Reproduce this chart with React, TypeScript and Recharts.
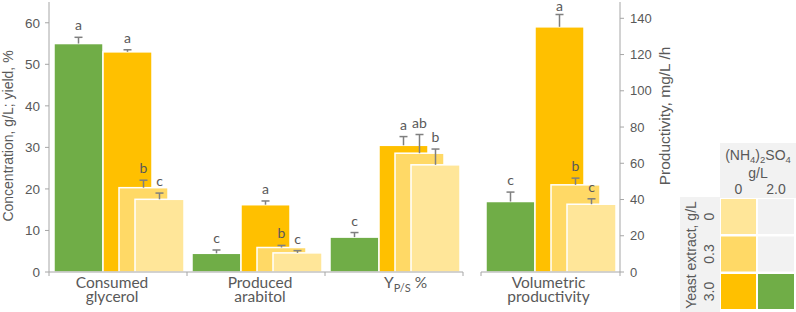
import React from 'react';
import { BarChart, Bar, XAxis, YAxis } from 'recharts';

// ---------- data ----------
const categories = ['Consumed glycerol', 'Produced arabitol', 'YP/S %'];
const prodCategories = ['Volumetric productivity'];

// (NH4)2SO4 2.0 g/L, yeast extract 3.0 g/L
const greenValues = [55.0, 4.5, 8.4];
const greenErrors = [1.5, 0.8, 1.1];
const greenLetters = ['a', 'c', 'c'];
// (NH4)2SO4 0, yeast extract 3.0 g/L
const orangeValues = [53.0, 16.2, 30.5];
const orangeErrors = [0.5, 0.9, 2.1];
const orangeLetters = ['a', 'a', 'a'];
// (NH4)2SO4 0, yeast extract 0.3 g/L
const lightValues = [20.3, 5.9, 28.6];
const lightErrors = [1.8, 0.5, 4.5];
const lightLetters = ['b', 'b', 'ab'];
// (NH4)2SO4 0, yeast extract 0
const lightestValues = [17.5, 4.6, 25.8];
const lightestErrors = [1.5, 0.55, 3.8];
const lightestLetters = ['c', 'c', 'b'];

// Volumetric productivity, mg/L/h
const prodGreen = [38.9];
const prodGreenErr = [5.2];
const prodGreenLetter = ['c'];
const prodOrange = [135.3];
const prodOrangeErr = [6.8];
const prodOrangeLetter = ['a'];
const prodLight = [48.1];
const prodLightErr = [3.7];
const prodLightLetter = ['b'];
const prodLightest = [37.4];
const prodLightestErr = [3.0];
const prodLightestLetter = ['c'];

const leftTicks = [0, 10, 20, 30, 40, 50, 60];
const rightTicks = [0, 20, 40, 60, 80, 100, 120, 140];

const legendCols = ['0', '2.0'];
const legendRows = ['0', '0.3', '3.0'];
const legendCells = [
  ['lightest', 'empty'],
  ['light', 'empty'],
  ['orange', 'green'],
];

// ---------- styles ----------
const COLORS: Record<string, string> = {
  green: '#70AD47',
  orange: '#FFC000',
  light: '#FFD966',
  lightest: '#FFE699',
  empty: '#F2F2F2',
};
const TEXT = '#595959';
const AXIS = '#A6A6A6';
const ERR = '#7F7F7F';
const ARIAL = '"Liberation Sans", Arial, sans-serif';
const CAL = 'Lato, "Open Sans", sans-serif';

// horizontal nudges of category labels (as placed in the original)
const LABEL_DX: Record<string, number> = {
  'Consumed glycerol': -6,
  'Produced arabitol': 4,
  'YP/S %': -10,
  'Volumetric productivity': -2,
};

const data1 = categories.map((cat, i) => ({
  cat,
  green: greenValues[i], greenErr: greenErrors[i], greenLetter: greenLetters[i],
  orange: orangeValues[i], orangeErr: orangeErrors[i], orangeLetter: orangeLetters[i],
  light: lightValues[i], lightErr: lightErrors[i], lightLetter: lightLetters[i],
  lightest: lightestValues[i], lightestErr: lightestErrors[i], lightestLetter: lightestLetters[i],
}));

const data2 = prodCategories.map((cat, i) => ({
  cat,
  green: prodGreen[i], greenErr: prodGreenErr[i], greenLetter: prodGreenLetter[i],
  orange: prodOrange[i], orangeErr: prodOrangeErr[i], orangeLetter: prodOrangeLetter[i],
  light: prodLight[i], lightErr: prodLightErr[i], lightLetter: prodLightLetter[i],
  lightest: prodLightest[i], lightestErr: prodLightestErr[i], lightestLetter: prodLightestLetter[i],
}));

// bar shape with shifted position, error bar and significance letter
const makeShape = (key: string, dx: number) => (props: any) => {
  const { x, y, width, height, payload } = props;
  const v = payload[key];
  const err = payload[key + 'Err'] || 0;
  const letter = payload[key + 'Letter'];
  const k = v ? height / v : 0;
  const bx = x + dx;
  const cx = bx + width / 2;
  const errTop = y - err * k;
  const ly = Math.max(errTop - 7, 11);
  return (
    <g>
      <rect x={bx} y={y} width={width} height={height} fill={COLORS[key]} stroke="#fff" strokeWidth={1.5} />
      <line x1={cx} x2={cx} y1={y} y2={errTop} stroke={ERR} strokeWidth={1.5} />
      <line x1={cx - 4} x2={cx + 4} y1={errTop} y2={errTop} stroke={ERR} strokeWidth={1.5} />
      <text x={cx} y={ly} textAnchor="middle" fontFamily={CAL} fontSize={14} fill={TEXT}>
        {letter}
      </text>
    </g>
  );
};

const makeCatTick = (count: number, fallbackHalf: number) => (props: any) => {
  const { x, y, payload } = props;
  const half = payload && payload.offset ? payload.offset : fallbackHalf;
  const value: string = payload.value;
  const lx = x + (LABEL_DX[value] || 0);
  let label: React.ReactNode;
  if (value === 'YP/S %') {
    label = (
      <text x={lx} y={y + 15.5} textAnchor="start" fontFamily={CAL} fontSize={15.5} fill={TEXT}>
        Y
        <tspan fontSize={11} dy={4}>P/S</tspan>
        <tspan dy={-4}> %</tspan>
      </text>
    );
  } else {
    const parts = value.split(' ');
    label = (
      <text x={lx} y={y + 15.5} textAnchor="middle" fontFamily={CAL} fontSize={15.5} fill={TEXT}>
        <tspan x={lx}>{parts[0]}</tspan>
        <tspan x={lx} dy={14}>{parts[1]}</tspan>
      </text>
    );
  }
  return (
    <g>
      <line x1={x - half} x2={x - half} y1={y} y2={y + 4} stroke={AXIS} />
      {payload.index === count - 1 ? <line x1={x + half} x2={x + half} y1={y} y2={y + 4} stroke={AXIS} /> : null}
      {label}
    </g>
  );
};

const leftTitle = (p: any) => {
  const vb = p.viewBox;
  const cy = vb.y + vb.height / 2 - 1;
  return (
    <text transform={`translate(8,${cy}) rotate(-90)`} textAnchor="middle" dominantBaseline="central"
      fontFamily={ARIAL} fontSize={14} fill={TEXT}>
      Concentration, g/L; yield, %
    </text>
  );
};

const rightTitle = (p: any) => {
  const vb = p.viewBox;
  const cy = vb.y + vb.height / 2 - 21;
  return (
    <text transform={`translate(${vb.x + 44},${cy}) rotate(-90)`} textAnchor="middle" dominantBaseline="central"
      fontFamily={ARIAL} fontSize={15.5} fill={TEXT}>
      Productivity, mg/L /h
    </text>
  );
};

const SERIES = ['green', 'orange', 'light', 'lightest'];
const SHIFT: Record<string, number> = { green: -16, orange: 17, light: 17, lightest: 17 };

const Legend = () => {
  const colX = [721, 758];
  const rowY = [199, 236.5, 274];
  const cw = [35, 36];
  const ch = 35;
  return (
    <svg width={796} height={312} style={{ position: 'absolute', left: 0, top: 0, pointerEvents: 'none' }}>
      <rect x={720} y={143} width={76} height={55} fill="#F2F2F2" />
      <rect x={680} y={197} width={40} height={115} fill="#F2F2F2" />
      <text x={758} y={160} textAnchor="middle" fontFamily={ARIAL} fontSize={14} fill={TEXT}>
        (NH<tspan fontSize={9.5} dy={3}>4</tspan><tspan dy={-3}>)</tspan><tspan fontSize={9.5} dy={3}>2</tspan><tspan dy={-3}>SO</tspan><tspan fontSize={9.5} dy={3}>4</tspan>
      </text>
      <text x={758} y={177.5} textAnchor="middle" fontFamily={ARIAL} fontSize={14} fill={TEXT}>g/L</text>
      {legendCols.map((c, i) => (
        <text key={c} x={colX[i] + cw[i] / 2} y={194} textAnchor="middle" fontFamily={ARIAL} fontSize={14} fill={TEXT}>{c}</text>
      ))}
      <text transform={`translate(691,255) rotate(-90)`} textAnchor="middle" dominantBaseline="central"
        fontFamily={ARIAL} fontSize={14} fill={TEXT}>Yeast extract, g/L</text>
      {legendRows.map((r, i) => (
        <text key={r} transform={`translate(709,${rowY[i] + ch / 2}) rotate(-90)`} textAnchor="middle" dominantBaseline="central"
          fontFamily={ARIAL} fontSize={14} fill={TEXT}>{r}</text>
      ))}
      {legendCells.map((row, ri) =>
        row.map((cell, ci) => (
          <rect key={`${ri}-${ci}`} x={colX[ci]} y={rowY[ri]} width={cw[ci]} height={ch} fill={COLORS[cell]} />
        ))
      )}
    </svg>
  );
};

export default function App() {
  return (
    <div style={{ position: 'absolute', left: 0, top: 0, width: 796, height: 312, background: '#fff', overflow: 'hidden' }}>
      <div style={{ position: 'absolute', left: 0, top: 0 }}>
        <BarChart width={470} height={312} data={data1} margin={{ top: 2, right: 7, bottom: 0, left: 0 }}
          barSize={49} barGap={-33}>
          <XAxis dataKey="cat" height={40} tickSize={0} tickMargin={0} tickLine={false}
            axisLine={{ stroke: AXIS }} tick={makeCatTick(categories.length, 69)} interval={0} />
          <YAxis width={49} domain={[0, 65]} ticks={leftTicks} allowDataOverflow
            axisLine={{ stroke: AXIS }} tickLine={{ stroke: AXIS }} tickSize={4} tickMargin={5}
            tick={{ fontFamily: ARIAL, fontSize: 13.5, fill: TEXT }} label={{ content: leftTitle }} />
          {SERIES.map((s) => (
            <Bar key={s} dataKey={s} fill={COLORS[s]} isAnimationActive={false} shape={makeShape(s, SHIFT[s])} />
          ))}
        </BarChart>
      </div>
      <div style={{ position: 'absolute', left: 476, top: 0 }}>
        <BarChart width={200} height={312} data={data2} margin={{ top: 2, right: 0, bottom: 0, left: 5 }}
          barSize={49} barGap={-33}>
          <XAxis dataKey="cat" height={40} tickSize={0} tickMargin={0} tickLine={false}
            axisLine={{ stroke: AXIS }} tick={makeCatTick(prodCategories.length, 69.5)} interval={0} />
          <YAxis orientation="right" width={56} domain={[0, 149]} ticks={rightTicks} allowDataOverflow
            axisLine={{ stroke: AXIS }} tickLine={{ stroke: AXIS }} tickSize={4} tickMargin={6}
            tick={{ fontFamily: ARIAL, fontSize: 13, fill: TEXT }} label={{ content: rightTitle }} />
          {SERIES.map((s) => (
            <Bar key={s} dataKey={s} fill={COLORS[s]} isAnimationActive={false} shape={makeShape(s, SHIFT[s])} />
          ))}
        </BarChart>
      </div>
      <Legend />
    </div>
  );
}
